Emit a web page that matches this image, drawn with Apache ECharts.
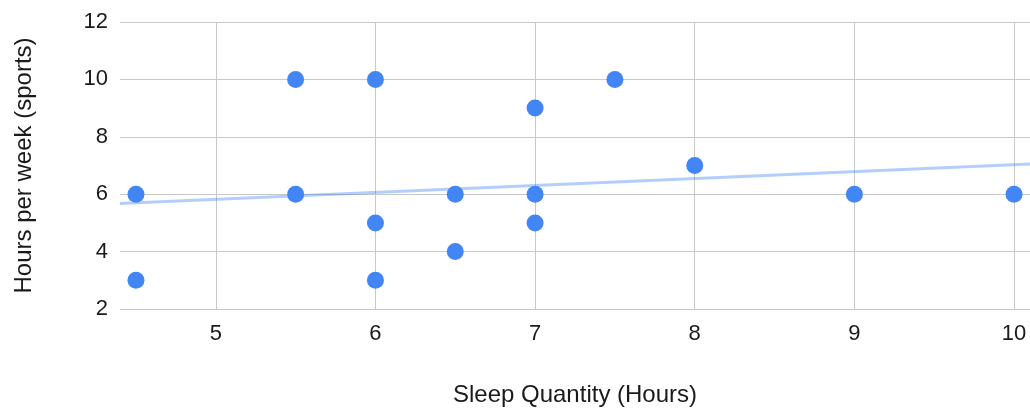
<!DOCTYPE html>
<html>
<head>
<meta charset="utf-8">
<script src="https://cdn.jsdelivr.net/npm/echarts@6/dist/echarts.min.js"></script>
<style>html,body{margin:0;padding:0;background:#fff}#c{width:1030px;height:412px}</style>
</head>
<body>
<div id="c"></div>
<script>
var xTicks = [5, 6, 7, 8, 9, 10];
var yTicks = [2, 4, 6, 8, 10, 12];
var points = [
  [4.5, 6], [4.5, 3], [5.5, 10], [5.5, 6], [6, 10], [6, 5], [6, 3],
  [6.5, 6], [6.5, 4], [7, 9], [7, 6], [7, 5], [7.5, 10], [8, 7], [9, 6], [10, 6]
];
var trend = [[4.4, 5.68], [10.1, 7.05]];

var chart = echarts.init(document.getElementById('c'), null, {renderer: 'canvas'});
var font = 'Liberation Sans, Arial, sans-serif';
chart.setOption({
  animation: false,
  grid: {left: 120, top: 22, width: 912, height: 292, containLabel: false},
  xAxis: {
    type: 'value', min: 4.4, max: 10.1,
    name: 'Sleep Quantity (Hours)', nameLocation: 'middle', nameGap: 74,
    nameTextStyle: {fontFamily: font, fontSize: 24, color: '#1a1a1a'},
    axisLine: {show: false},
    axisTick: {show: false, customValues: xTicks},
    axisLabel: {customValues: xTicks, fontFamily: font, fontSize: 22, color: '#1a1a1a', margin: 14},
    splitLine: {show: true, lineStyle: {color: '#c8c8c8', width: 1}}
  },
  yAxis: {
    type: 'value', min: 2, max: 12, interval: 2,
    name: 'Hours per week (sports)', nameLocation: 'middle', nameGap: 84,
    nameTextStyle: {fontFamily: font, fontSize: 24, color: '#1a1a1a'},
    axisLine: {show: false},
    axisTick: {show: false},
    axisLabel: {fontFamily: font, fontSize: 22, color: '#1a1a1a', margin: 12},
    splitLine: {show: true, lineStyle: {color: '#c8c8c8', width: 1}}
  },
  series: [
    {
      type: 'line', data: trend, symbol: 'none', silent: true,
      lineStyle: {color: '#4285f4', opacity: 0.4, width: 3}, z: 1
    },
    {
      type: 'scatter', data: points, symbolSize: 17,
      itemStyle: {color: '#4285f4', opacity: 1}, z: 2
    }
  ]
});
</script>
</body>
</html>
